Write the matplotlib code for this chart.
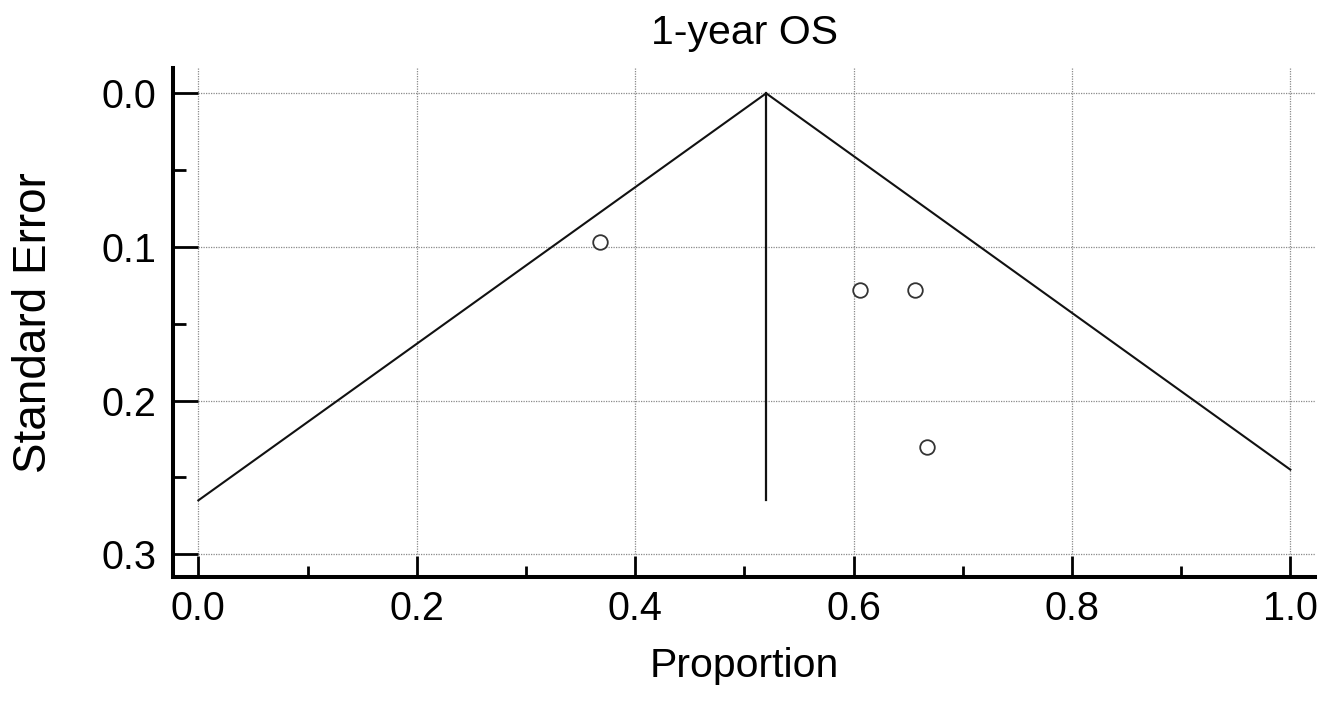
import numpy as np
import matplotlib
matplotlib.use("Agg")
import matplotlib.pyplot as plt
from matplotlib.ticker import MultipleLocator

plt.rcParams['font.family'] = ['Liberation Sans', 'DejaVu Sans']

# study estimates (proportion, standard error)
proportion = [0.368, 0.606, 0.656, 0.667]
std_error = [0.097, 0.128, 0.128, 0.230]

# pooled estimate and funnel outline
pooled = 0.52
funnel_x = [0.0, 0.52, 1.0]
funnel_se = [0.265, 0.0, 0.245]
se_max = 0.265

x_major = [0.0, 0.2, 0.4, 0.6, 0.8, 1.0]
y_major = [0.0, 0.1, 0.2, 0.3]

fig = plt.figure(figsize=(13.33, 7.01), dpi=100)
ax = fig.add_axes([0.1298, 0.1762, 0.8567, 0.7275])

ax.set_xlim(-0.0232, 1.0226)
ax.set_ylim(0.3152, -0.0168)

# dotted grid, only inside the data area
grid_kw = dict(color='#8a8a8a', linewidth=0.9, linestyle=(0, (1, 1)), zorder=0)
ax.hlines(y_major, 0.0, 1.0226, **grid_kw)
ax.vlines(x_major, -0.0168, 0.3, **grid_kw)

# funnel
ax.plot(funnel_x, funnel_se, color='#111111', linewidth=1.5, zorder=2)
ax.plot([pooled, pooled], [0.0, se_max], color='#111111', linewidth=1.6, zorder=2)

# studies
ax.plot(proportion, std_error, linestyle='none', marker='o', markersize=10.5,
        markerfacecolor='white', markeredgecolor='#333333', markeredgewidth=1.3, zorder=3)

# axes styling
for side in ['top', 'right']:
    ax.spines[side].set_visible(False)
for side in ['left', 'bottom']:
    ax.spines[side].set_linewidth(2.9)
    ax.spines[side].set_color('black')

ax.set_xticks(x_major)
ax.set_yticks(y_major)
ax.xaxis.set_minor_locator(MultipleLocator(0.1))
ax.yaxis.set_minor_locator(MultipleLocator(0.05))
ax.set_xticklabels(['0.0', '0.2', '0.4', '0.6', '0.8', '1.0'])
ax.set_yticklabels(['0.0', '0.1', '0.2', '0.3'])

ax.tick_params(axis='x', which='major', direction='in', length=15, width=2.0,
               labelsize=28.5, pad=9)
ax.tick_params(axis='x', which='minor', direction='in', length=8, width=2.0)
ax.tick_params(axis='y', which='major', direction='in', length=18, width=2.0,
               labelsize=28.5, pad=12)
ax.tick_params(axis='y', which='minor', direction='in', length=9, width=2.0)

ax.set_title('1-year OS', fontsize=29.5, pad=17)
ax.set_xlabel('Proportion', fontsize=29.5, labelpad=14)
ax.set_ylabel('Standard Error', fontsize=33, labelpad=33)

fig.savefig('out.png', dpi=100, facecolor='white')
